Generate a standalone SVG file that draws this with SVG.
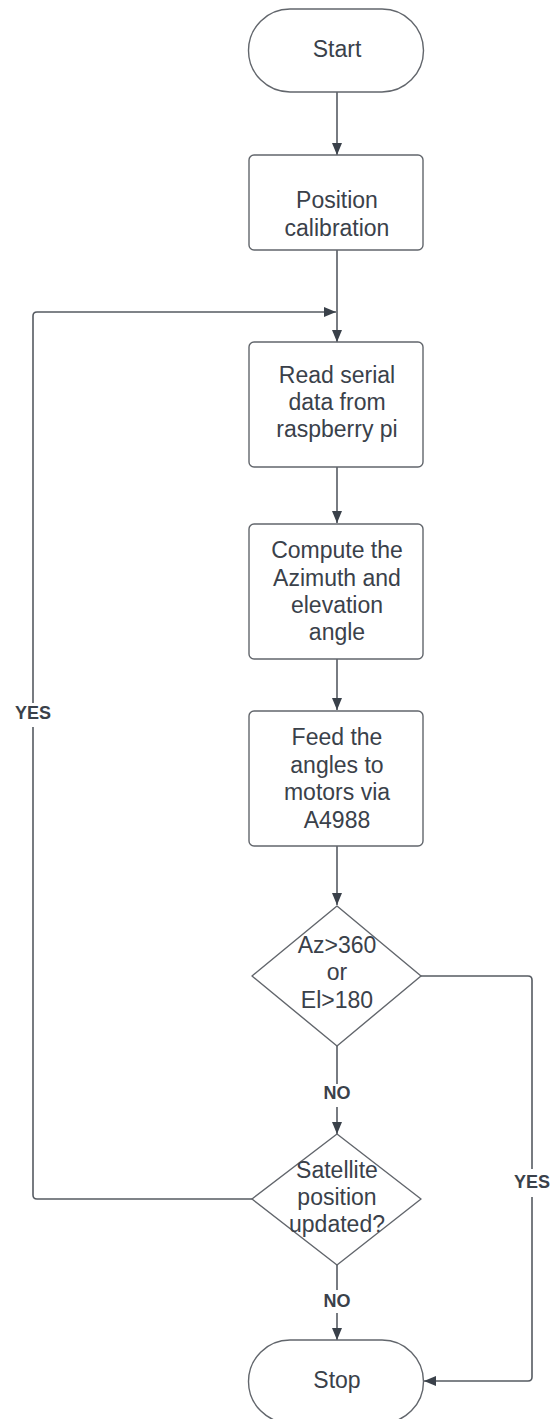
<svg xmlns="http://www.w3.org/2000/svg" width="553" height="1419" viewBox="0 0 553 1419">
<defs>
<style>
.shape{fill:#ffffff;stroke:#62666c;stroke-width:1.4}
.conn{fill:none;stroke:#565b62;stroke-width:1.6;stroke-linejoin:round}
.t{font-family:"Liberation Sans",Arial,sans-serif;font-size:23px;fill:#3a414a;text-anchor:middle}
.lbl{font-family:"Liberation Sans",Arial,sans-serif;font-size:18px;font-weight:bold;fill:#3a414a;text-anchor:middle}
</style>
<marker id="arr" viewBox="0 0 12 10" refX="12" refY="5" markerWidth="12" markerHeight="10" markerUnits="userSpaceOnUse" orient="auto">
<path d="M0,0 L12,5 L0,10 Z" fill="#3a414a"/>
</marker>
</defs>
<rect width="553" height="1419" fill="#ffffff"/>
<g id="connectors">
<path class="conn" d="M337,92 V155" marker-end="url(#arr)"/>
<path class="conn" d="M337,250 V342" marker-end="url(#arr)"/>
<path class="conn" d="M337,467 V523" marker-end="url(#arr)"/>
<path class="conn" d="M337,659 V710" marker-end="url(#arr)"/>
<path class="conn" d="M337,846 V905" marker-end="url(#arr)"/>
<path class="conn" d="M337,1046 V1084"/>
<path class="conn" d="M337,1107 V1134" marker-end="url(#arr)"/>
<path class="conn" d="M337,1265 V1290"/>
<path class="conn" d="M337,1313 V1340" marker-end="url(#arr)"/>
<path class="conn" d="M252,1199 H37 Q33,1199 33,1195 V727"/>
<path class="conn" d="M33,703 V316 Q33,312 37,312 H336" marker-end="url(#arr)"/>
<path class="conn" d="M421,976 H528 Q532,976 532,980 V1169"/>
<path class="conn" d="M532,1197 V1377 Q532,1381 528,1381 H424" marker-end="url(#arr)"/>
<text class="lbl" x="337" y="1099">NO</text>
<text class="lbl" x="337" y="1307">NO</text>
<text class="lbl" x="33" y="719">YES</text>
<text class="lbl" x="532" y="1188">YES</text>
</g>
<g id="start">
<rect class="shape" x="248.5" y="9" width="175" height="83" rx="41.5" ry="41.5"/>
<text class="t" x="337" y="57">Start</text>
</g>
<g id="calibration">
<rect class="shape" x="249" y="155" width="174" height="95" rx="5"/>
<text class="t" x="337" y="208">Position</text>
<text class="t" x="337" y="236">calibration</text>
</g>
<g id="read">
<rect class="shape" x="249" y="342" width="174" height="125" rx="5"/>
<text class="t" x="337" y="383">Read serial</text>
<text class="t" x="337" y="410">data from</text>
<text class="t" x="337" y="437">raspberry pi</text>
</g>
<g id="compute">
<rect class="shape" x="249" y="524" width="174" height="135" rx="5"/>
<text class="t" x="337" y="558">Compute the</text>
<text class="t" x="337" y="586">Azimuth and</text>
<text class="t" x="337" y="613">elevation</text>
<text class="t" x="337" y="640">angle</text>
</g>
<g id="feed">
<rect class="shape" x="249" y="711" width="174" height="135" rx="5"/>
<text class="t" x="337" y="745">Feed the</text>
<text class="t" x="337" y="773">angles to</text>
<text class="t" x="337" y="800">motors via</text>
<text class="t" x="337" y="828">A4988</text>
</g>
<g id="limit">
<path class="shape" d="M337,906 L421,976 L337,1046 L252,976 Z" stroke-linejoin="round"/>
<text class="t" x="337" y="953">Az&gt;360</text>
<text class="t" x="337" y="980">or</text>
<text class="t" x="337" y="1008">El&gt;180</text>
</g>
<g id="updated">
<path class="shape" d="M337,1134 L421,1199 L337,1265 L252,1199 Z" stroke-linejoin="round"/>
<text class="t" x="337" y="1178">Satellite</text>
<text class="t" x="337" y="1205">position</text>
<text class="t" x="337" y="1232">updated?</text>
</g>
<g id="stop">
<rect class="shape" x="248.5" y="1340" width="175" height="83" rx="41.5" ry="41.5"/>
<text class="t" x="337" y="1388">Stop</text>
</g>
</svg>
